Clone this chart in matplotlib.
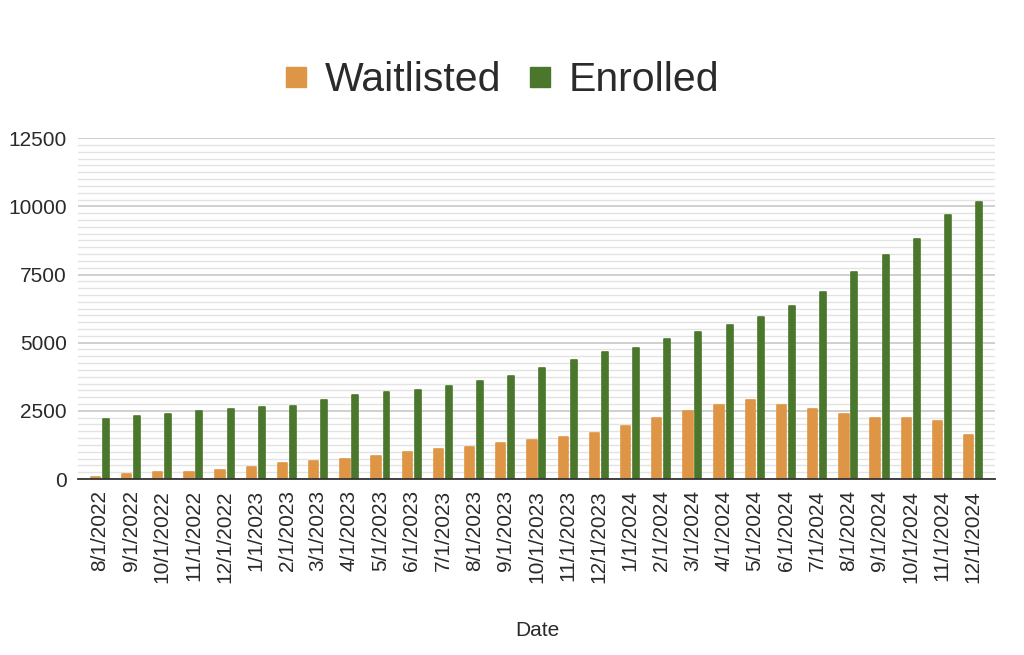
import matplotlib.pyplot as plt
from matplotlib.lines import Line2D
from matplotlib.ticker import MultipleLocator
import numpy as np

plt.rcParams['font.family'] = ['Liberation Sans', 'DejaVu Sans']

dates = ["8/1/2022", "9/1/2022", "10/1/2022", "11/1/2022", "12/1/2022",
         "1/1/2023", "2/1/2023", "3/1/2023", "4/1/2023", "5/1/2023", "6/1/2023",
         "7/1/2023", "8/1/2023", "9/1/2023", "10/1/2023", "11/1/2023", "12/1/2023",
         "1/1/2024", "2/1/2024", "3/1/2024", "4/1/2024", "5/1/2024", "6/1/2024",
         "7/1/2024", "8/1/2024", "9/1/2024", "10/1/2024", "11/1/2024", "12/1/2024"]

waitlisted = [80, 200, 270, 260, 330, 450, 600, 660, 720, 850, 980, 1100, 1170,
              1310, 1430, 1550, 1680, 1940, 2250, 2500, 2700, 2900, 2700, 2580,
              2390, 2250, 2250, 2130, 1610]

enrolled = [2190, 2310, 2370, 2500, 2560, 2630, 2690, 2890, 3070, 3200, 3270,
            3400, 3580, 3780, 4060, 4370, 4640, 4820, 5140, 5390, 5650, 5960,
            6360, 6870, 7580, 8220, 8810, 9700, 10160]

orange = "#DE9546"
green = "#4A772B"
txt = "#2a2a2a"

fig = plt.figure(figsize=(10.24, 6.55), dpi=100)
ax = fig.add_axes([0.0762, 0.2687, 0.8955, 0.5203])

x = np.arange(len(dates))
ax.bar(x - 0.145, waitlisted, width=0.30, color=orange, edgecolor=orange,
       linewidth=1.2, joinstyle='round', zorder=3)
ax.bar(x + 0.19, enrolled, width=0.19, color=green, edgecolor=green,
       linewidth=1.2, joinstyle='round', zorder=3)

ax.set_xlim(-0.7, len(dates) - 0.3)
ax.set_ylim(0, 12500)
ax.yaxis.set_major_locator(MultipleLocator(2500))
ax.yaxis.set_minor_locator(MultipleLocator(250))
ax.grid(which='major', axis='y', color='#c8c8c8', linewidth=1.2, zorder=0)
ax.grid(which='minor', axis='y', color='#e3e3e3', linewidth=1.0, zorder=0)

ax.set_xticks(x)
ax.set_xticklabels(dates, rotation=90, fontsize=15, color=txt)
ax.tick_params(axis='y', which='both', length=0, pad=8, labelsize=15,
               labelcolor=txt)
ax.tick_params(axis='x', length=0, pad=8)

for s in ['top', 'right', 'left']:
    ax.spines[s].set_visible(False)
ax.spines['bottom'].set_color('#333333')
ax.spines['bottom'].set_linewidth(1.3)
ax.spines['bottom'].set_zorder(4)

fig.text(537 / 1024, 1 - 630 / 655, "Date", ha='center', va='center',
         fontsize=15, color=txt)

handles = [Line2D([], [], marker='s', linestyle='', markersize=15,
                  color=orange, label='Waitlisted'),
           Line2D([], [], marker='s', linestyle='', markersize=15,
                  color=green, label='Enrolled')]
fig.legend(handles=handles, loc='center', bbox_to_anchor=(0.488, 0.878),
           ncol=2, frameon=False, fontsize=29.5, handletextpad=0.3,
           columnspacing=0.55, handlelength=0.8, labelcolor=txt)

fig.savefig("out.png", dpi=100)
